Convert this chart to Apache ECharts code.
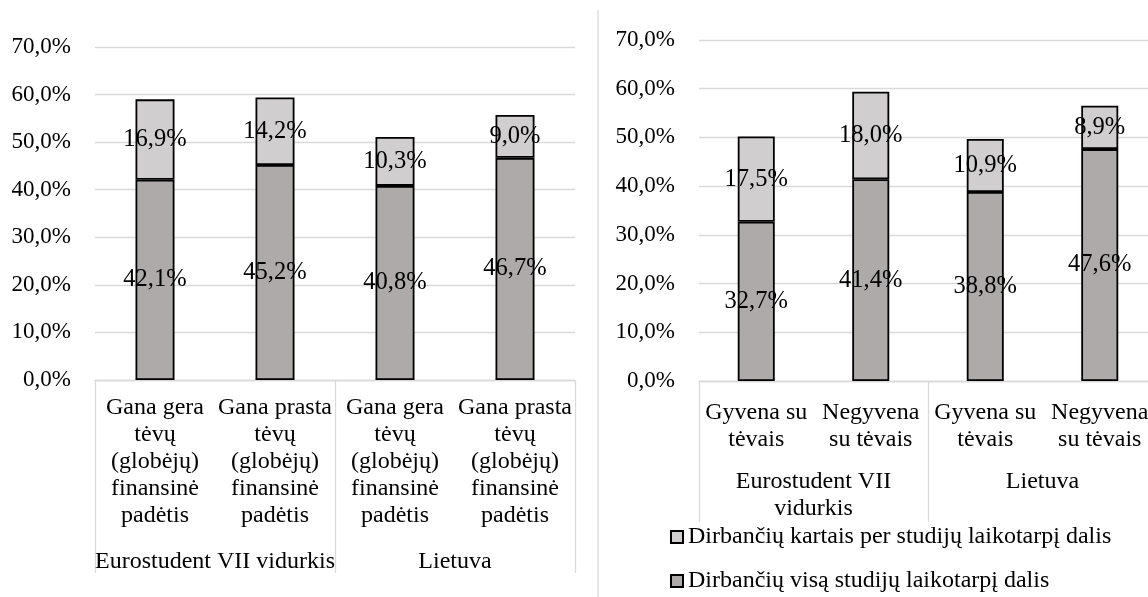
<!DOCTYPE html>
<html>
<head>
<meta charset="utf-8">
<script src="https://cdn.jsdelivr.net/npm/echarts@6/dist/echarts.min.js"></script>
<style>
  html, body { margin: 0; padding: 0; background: #fff; }
  #chart { width: 1148px; height: 597px; }
</style>
</head>
<body>
<div id="chart"></div>
<script>
// kairė diagrama – tėvų finansinė padėtis
const leftCategories = [
    'Gana gera\ntėvų\n(globėjų)\nfinansinė\npadėtis',
    'Gana prasta\ntėvų\n(globėjų)\nfinansinė\npadėtis',
    'Gana gera\ntėvų\n(globėjų)\nfinansinė\npadėtis',
    'Gana prasta\ntėvų\n(globėjų)\nfinansinė\npadėtis'
];
const leftGroups = ['Eurostudent VII vidurkis', 'Lietuva'];
const leftFull = [42.1, 45.2, 40.8, 46.7];
const leftSometimes = [16.9, 14.2, 10.3, 9.0];

// dešinė diagrama – gyvena su tėvais ar ne
const rightCategories = ['Gyvena su\ntėvais', 'Negyvena\nsu tėvais', 'Gyvena su\ntėvais', 'Negyvena\nsu tėvais'];
const rightGroups = ['Eurostudent VII\nvidurkis', 'Lietuva'];
const rightFull = [32.7, 41.4, 38.8, 47.6];
const rightSometimes = [17.5, 18.0, 10.9, 8.9];

const seriesNames = ['Dirbančių kartais per studijų laikotarpį dalis', 'Dirbančių visą studijų laikotarpį dalis'];

const FONT = 'Liberation Serif';
const GRID_COLOR = '#d9d9d9';
const fmt = v => v.toFixed(1).replace('.', ',') + '%';

const chart = echarts.init(document.getElementById('chart'));

const yAxisBase = (gridIndex) => ({
    type: 'value',
    gridIndex: gridIndex,
    min: 0,
    max: 70,
    interval: 10,
    axisLine: {show: false},
    axisTick: {show: false},
    axisLabel: {
        formatter: fmt,
        color: '#000',
        fontFamily: FONT,
        fontSize: 23,
        margin: 24
    },
    splitLine: {lineStyle: {color: GRID_COLOR, width: 1.3}}
});

const catAxis = (gridIndex, data, margin) => ({
    type: 'category',
    gridIndex: gridIndex,
    data: data,
    position: 'bottom',
    axisLine: {show: true, lineStyle: {color: GRID_COLOR, width: 1.3}},
    axisTick: {show: false},
    axisLabel: {
        interval: 0,
        color: '#000',
        fontFamily: FONT,
        fontSize: 24,
        lineHeight: 27,
        align: 'center',
        margin: margin
    }
});

const groupAxis = (gridIndex, data, tickLen, margin) => ({
    type: 'category',
    gridIndex: gridIndex,
    data: data,
    position: 'bottom',
    axisLine: {show: false},
    axisTick: {show: true, length: tickLen, lineStyle: {color: GRID_COLOR, width: 1.3}},
    axisLabel: {
        interval: 0,
        color: '#000',
        fontFamily: FONT,
        fontSize: 24,
        lineHeight: 27,
        align: 'center',
        margin: margin
    }
});

const barSeries = (name, data, xIdx, yIdx, color, width) => ({
    name: name,
    type: 'bar',
    stack: 'g' + xIdx,
    xAxisIndex: xIdx,
    yAxisIndex: yIdx,
    data: data,
    barWidth: width,
    itemStyle: {color: color, borderColor: '#000', borderWidth: 1.8},
    label: {
        show: true,
        position: 'inside',
        formatter: p => fmt(p.value),
        color: '#000',
        fontFamily: FONT,
        fontSize: 24.5
    }
});

chart.setOption({
    backgroundColor: '#fff',
    animation: false,
    grid: [
        {left: 95, top: 47, width: 480, height: 333, outerBoundsMode: 'none'},
        {left: 699, top: 40, width: 458, height: 341, outerBoundsMode: 'none'}
    ],
    xAxis: [
        catAxis(0, leftCategories, 14),
        groupAxis(0, leftGroups, 193, 168),
        catAxis(1, rightCategories, 18),
        groupAxis(1, rightGroups, 141, 87)
    ],
    yAxis: [yAxisBase(0), yAxisBase(1)],
    legend: {
        data: seriesNames,
        orient: 'vertical',
        left: 670,
        top: 524,
        height: 74,
        padding: 0,
        itemWidth: 12,
        itemHeight: 12,
        itemGap: 18,
        icon: 'rect',
        textStyle: {color: '#000', fontFamily: FONT, fontSize: 24, lineHeight: 26}
    },
    series: [
        barSeries(seriesNames[1], leftFull, 0, 0, '#aeaaaa', 39),
        barSeries(seriesNames[0], leftSometimes, 0, 0, '#d0cece', 39),
        barSeries(seriesNames[1], rightFull, 2, 1, '#aeaaaa', 37),
        barSeries(seriesNames[0], rightSometimes, 2, 1, '#d0cece', 37)
    ],
    graphic: [{
        type: 'line',
        shape: {x1: 598, y1: 10, x2: 598, y2: 597},
        style: {stroke: GRID_COLOR, lineWidth: 1.3},
        silent: true
    }]
});
</script>
</body>
</html>
